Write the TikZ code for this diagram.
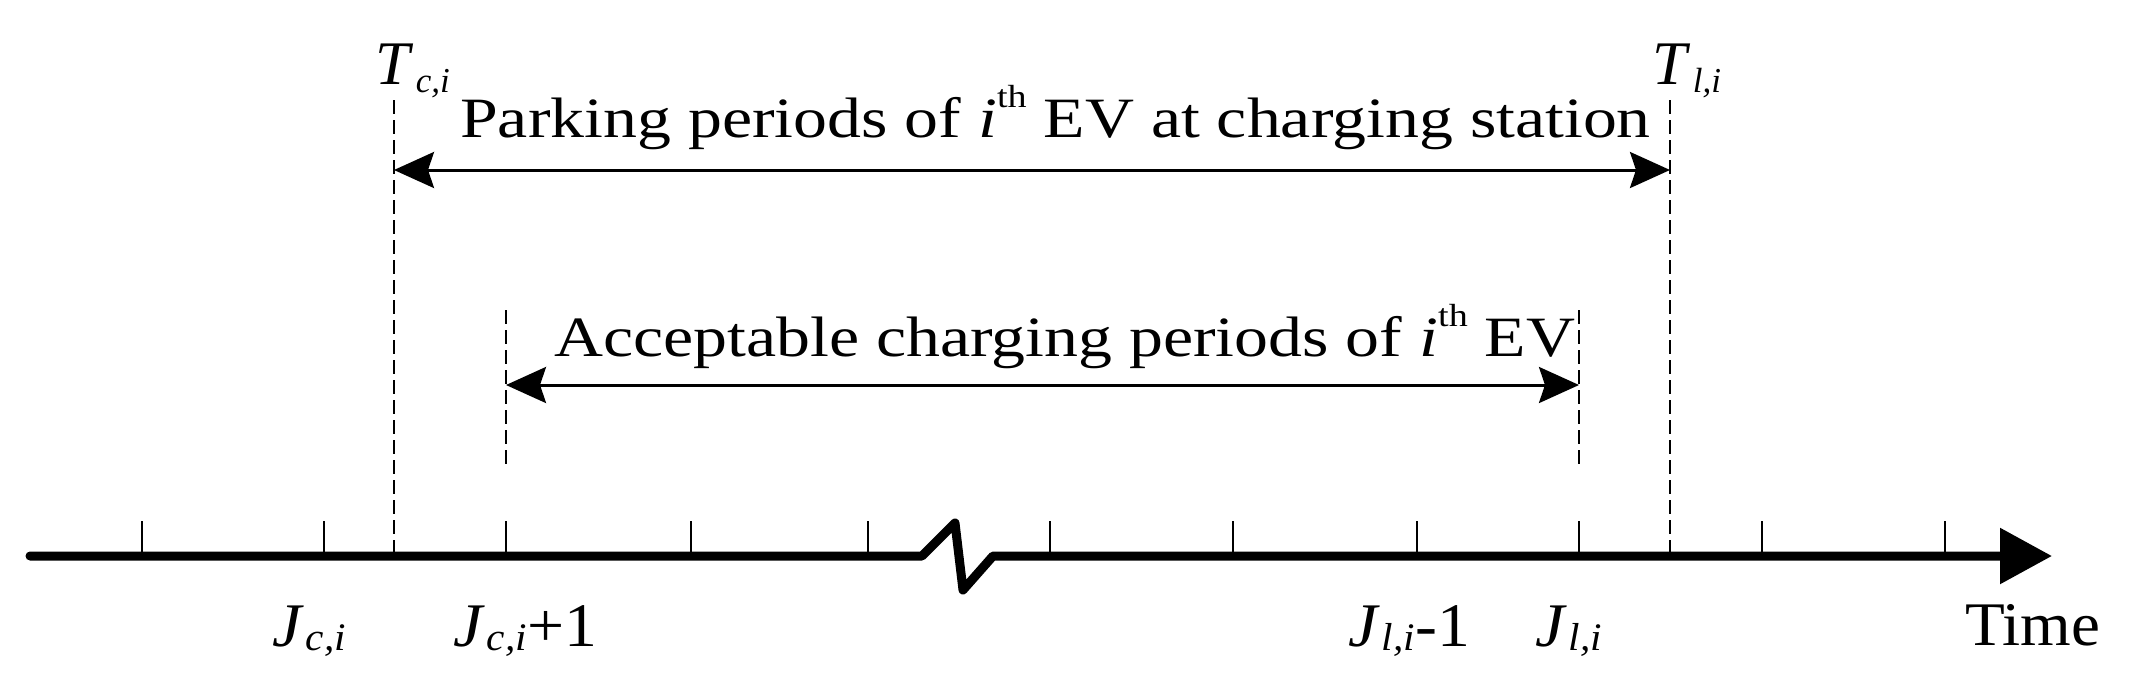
\documentclass[tikz,border=0pt]{standalone}
\usepackage{fontspec}
\setmainfont{Liberation Serif}
\usetikzlibrary{arrows.meta}
\newcommand{\lsub}[2]{\textit{#1}\kern0.03em\raisebox{-0.08em}{\fontsize{39}{39}\selectfont\textit{#2}}}
\newcommand{\tsub}[2]{\textit{#1}\kern0.04em\raisebox{-0.14em}{\fontsize{35}{35}\selectfont\textit{#2}}}
\newcommand{\ith}{\textit{i}\raisebox{0.52em}{\fontsize{32}{32}\selectfont th}}
\begin{document}
\begin{tikzpicture}[x=1pt,y=-1pt,
  axis/.style={line width=9pt, line cap=round, line join=round},
  tickln/.style={line width=2pt},
  guide/.style={line width=2.5pt, dash pattern=on 14pt off 6pt},
  span/.style={line width=3pt, {Stealth[length=40pt,width=36pt,inset=6pt]}-{Stealth[length=40pt,width=36pt,inset=6pt]}},
  lbl/.style={font=\fontsize{62}{62}\selectfont, inner sep=0pt, anchor=base west},
  big/.style={font=\fontsize{57}{57}\selectfont, inner sep=0pt, anchor=base west}]
\useasboundingbox (0,0) rectangle (2131,691);
% axis
\coordinate (a0) at (30,556);
\coordinate (z1) at (922,556);
\coordinate (z2) at (955,523);
\coordinate (z3) at (963,590);
\coordinate (z4) at (993,556);
\coordinate (aend) at (2052,556);
\draw[axis, -{Triangle[length=52pt,width=54pt]}] (a0) -- (z1) -- (z2) -- (z3) -- (z4) -- (aend);
% ticks
\foreach \x [count=\k] in {142,324,506,691,868,1050,1233,1417,1579,1762,1945}
  \draw[tickln] (\x,521) coordinate (t\k) -- (\x,556);
% guides
\coordinate (tc0) at (394,100); \coordinate (tc1) at (394,554);
\coordinate (tl0) at (1670,100); \coordinate (tl1) at (1670,554);
\coordinate (jc0) at (506,310); \coordinate (jc1) at (506,469);
\coordinate (jl0) at (1579,310); \coordinate (jl1) at (1579,469);
\draw[guide] (tc0) -- (tc1);
\draw[guide] (tl0) -- (tl1);
\draw[guide] (jc0) -- (jc1);
\draw[guide] (jl0) -- (jl1);
% spans
\coordinate (p0) at (394,170); \coordinate (p1) at (1670,170);
\coordinate (q0) at (506,385); \coordinate (q1) at (1579,385);
\draw[span] (p0) -- (p1);
\draw[span] (q0) -- (q1);
% texts
\node[lbl] (tc) at (375,84) {\tsub{T}{c,i}};
\node[lbl] (tl) at (1652,84) {\tsub{T}{l,i}};
\node[big] (park) at (460,137) {\scalebox{1.19}[1]{Parking periods of \ith\ EV at charging station}};
\node[big] (acc) at (554,356) {\scalebox{1.19}[1]{Acceptable charging periods of \ith\ EV}};
\node[lbl] (l1) at (272,646) {\scalebox{1.06}[1]{\lsub{J}{c,i}}};
\node[lbl] (l2) at (453,646) {\scalebox{1.06}[1]{\lsub{J}{c,i}+1}};
\node[lbl] (l3) at (1348,646) {\scalebox{1.06}[1]{\lsub{J}{l,i}-1}};
\node[lbl] (l4) at (1535,646) {\scalebox{1.06}[1]{\lsub{J}{l,i}}};
\node[lbl] (time) at (1965,645) {\scalebox{1.05}[1]{Time}};
\end{tikzpicture}
\end{document}
